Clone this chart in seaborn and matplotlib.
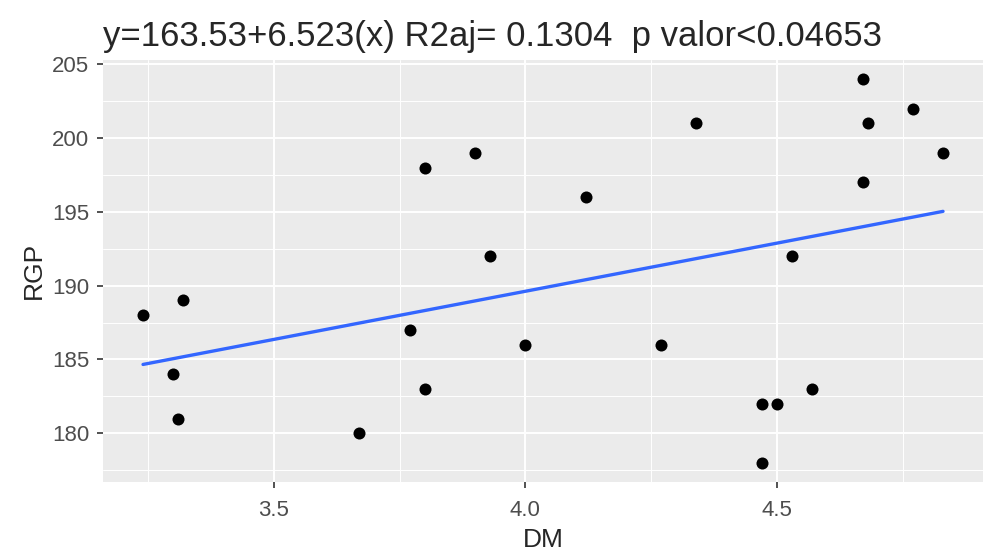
import numpy as np
import pandas as pd
import matplotlib
matplotlib.use("Agg")
import matplotlib.pyplot as plt
import seaborn as sns
from matplotlib.ticker import MultipleLocator, FormatStrFormatter

# Data
dm = [3.24, 3.32, 3.30, 3.31, 3.67, 3.77, 3.80, 3.80, 3.90, 3.93, 4.00, 4.12,
      4.27, 4.34, 4.47, 4.47, 4.50, 4.53, 4.57, 4.67, 4.67, 4.68, 4.77, 4.83]
rgp = [188, 189, 184, 181, 180, 187, 198, 183, 199, 192, 186, 196,
       186, 201, 182, 178, 182, 192, 183, 204, 197, 201, 202, 199]
title = "y=163.53+6.523(x) R2aj= 0.1304  p valor<0.04653"

df = pd.DataFrame({"DM": dm, "RGP": rgp})

sns.set_style("darkgrid", {"axes.facecolor": "#EBEBEB", "grid.color": "white"})
plt.rcParams["font.family"] = ["Liberation Sans", "DejaVu Sans"]

fig = plt.figure(figsize=(9.85, 5.54), dpi=100)
ax = fig.add_axes([0.1046, 0.130, 0.8934, 0.762])

sns.regplot(data=df, x="DM", y="RGP", ci=None, ax=ax,
            scatter_kws={"s": 75, "color": "black", "alpha": 1,
                         "linewidths": 0, "zorder": 3},
            line_kws={"color": "#3366FF", "lw": 2.4, "zorder": 2})

ax.set_xlim(3.1605, 4.9095)
ax.set_ylim(176.7, 205.3)
ax.xaxis.set_major_locator(MultipleLocator(0.5))
ax.xaxis.set_minor_locator(MultipleLocator(0.25))
ax.xaxis.set_major_formatter(FormatStrFormatter("%.1f"))
ax.yaxis.set_major_locator(MultipleLocator(5))
ax.yaxis.set_minor_locator(MultipleLocator(2.5))
ax.grid(which="major", color="white", lw=1.4)
ax.grid(which="minor", color="white", lw=0.7)
ax.set_axisbelow(True)
for s in ax.spines.values():
    s.set_visible(False)

ax.tick_params(axis="both", which="major", labelsize=16, labelcolor="#4D4D4D",
               color="#333333", length=4, width=1.2, pad=4, bottom=True, left=True)
ax.tick_params(axis="x", which="major", pad=9)
ax.tick_params(axis="y", which="major", pad=6)
ax.tick_params(axis="both", which="minor", length=0)

ax.set_xlabel("DM", fontsize=19, labelpad=5)
ax.set_ylabel("RGP", fontsize=19, labelpad=4)
ax.set_title(title, fontsize=25, loc="left", pad=10)

fig.savefig("out.png", dpi=100)
